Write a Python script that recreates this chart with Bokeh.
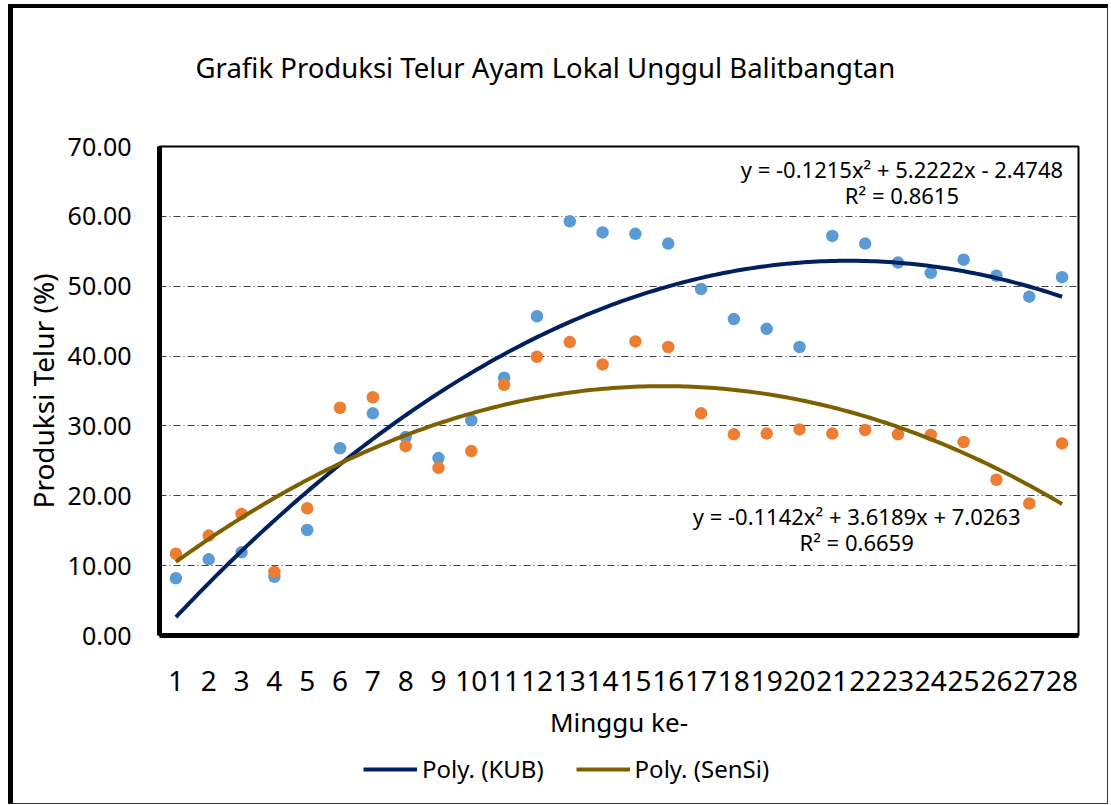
import numpy as np
from bokeh.plotting import figure
from bokeh.layouts import column
from bokeh.models import Range1d, FixedTicker, PrintfTickFormatter, Legend, LegendItem, ColumnDataSource
from bokeh.core.properties import value
from bokeh.embed import file_html
from bokeh.resources import INLINE

# ---- data ----
weeks = list(range(1, 29))
week_labels = [str(w) for w in weeks]
kub = [8.2, 10.9, 11.9, 8.4, 15.1, 26.8, 31.8, 28.4, 25.4, 30.8, 36.9, 45.7, 59.3, 57.7,
       57.5, 56.1, 49.6, 45.3, 43.9, 41.3, 57.2, 56.1, 53.4, 51.9, 53.8, 51.5, 48.5, 51.3]
sensi = [11.7, 14.3, 17.4, 9.1, 18.2, 32.6, 34.1, 27.1, 24.0, 26.4, 35.9, 39.9, 42.0, 38.8,
         42.1, 41.3, 31.8, 28.8, 28.9, 29.5, 28.9, 29.4, 28.8, 28.7, 27.7, 22.3, 18.9, 27.5]
# polynomial trendline coefficients shown in the chart (a, b, c) and R^2
kub_coef = [-0.1215, 5.2222, -2.4748]
kub_r2 = 0.8615
sensi_coef = [-0.1142, 3.6189, 7.0263]
sensi_r2 = 0.6659
y_ticks = [0, 10, 20, 30, 40, 50, 60, 70]
series_names = ["Poly. (KUB)", "Poly. (SenSi)"]
title_text = "Grafik Produksi Telur Ayam Lokal Unggul Balitbangtan"

FONT = "Noto Sans"
KUB_TREND = "#002060"
SENSI_TREND = "#7F6000"
W = 1094

def eq_text(c, r2):
    s1 = "-" if c[1] < 0 else "+"
    s2 = "-" if c[2] < 0 else "+"
    return f"y = {c[0]:.4f}x\u00b2 {s1} {abs(c[1]):.4f}x {s2} {abs(c[2]):.4f}\nR\u00b2 = {r2:.4f}"

xs = np.linspace(weeks[0], weeks[-1], 200)
kub_fit = np.polyval(kub_coef, xs)
sensi_fit = np.polyval(sensi_coef, xs)

# ---- title strip ----
p0 = figure(width=W, height=100, x_range=Range1d(0.5, 28.5), y_range=Range1d(0, 1),
            output_backend="svg", toolbar_location=None, min_border=0,
            min_border_left=146, min_border_right=29)
p0.axis.visible = False
p0.grid.visible = False
p0.outline_line_color = None
p0.text(x=[1.6], y=[0.41], text=[title_text], text_align="left", text_baseline="middle",
        text_font=value(FONT), text_font_size="27.5px", text_color="black")

# ---- main chart ----
p = figure(width=W, height=642, x_range=Range1d(0.5, 28.5), y_range=Range1d(0, 70),
           output_backend="svg", toolbar_location=None,
           min_border_left=146, min_border_right=29, min_border_top=38, min_border_bottom=115)

p.outline_line_color = "black"
p.outline_line_width = 2

# grid
p.xgrid.visible = False
p.ygrid.ticker = FixedTicker(ticks=[10, 20, 30, 40, 50, 60])
p.ygrid.grid_line_color = "#404040"
p.ygrid.grid_line_dash = "7 3 1 3"
p.ygrid.grid_line_width = 1

# axes
p.xaxis.ticker = FixedTicker(ticks=weeks)
p.xaxis.major_label_overrides = {w: l for w, l in zip(weeks, week_labels)}
p.yaxis.ticker = FixedTicker(ticks=y_ticks)
p.yaxis.formatter = PrintfTickFormatter(format="%.2f")
for ax in (p.xaxis[0], p.yaxis[0]):
    ax.axis_line_width = 5
    ax.axis_line_color = "black"
    ax.major_tick_line_color = None
    ax.minor_tick_line_color = None
    ax.major_label_text_font = FONT
    ax.major_label_text_color = "black"
    ax.axis_label_text_font = FONT
    ax.axis_label_text_font_style = "normal"
    ax.axis_label_text_color = "black"
p.xaxis.major_label_text_font_size = "28px"
p.yaxis.major_label_text_font_size = "25px"
p.xaxis.axis_label_text_font_size = "26px"
p.yaxis.axis_label_text_font_size = "28px"
p.xaxis.axis_label = "Minggu ke-"
p.yaxis.axis_label = "Produksi Telur (%)"
p.xaxis.major_label_standoff = 29
p.xaxis.axis_label_standoff = 10
p.yaxis.major_label_standoff = 22
p.yaxis.axis_label_standoff = 3

# scatter points
src = ColumnDataSource(dict(week=weeks, kub=kub, sensi=sensi))
p.scatter("week", "kub", source=src, size=12.5, color="#5B9BD5", line_color=None)
p.scatter("week", "sensi", source=src, size=12.5, color="#ED7D31", line_color=None)

# trendlines
p.line(xs, kub_fit, line_color=KUB_TREND, line_width=4)
p.line(xs, sensi_fit, line_color=SENSI_TREND, line_width=4)

# equation labels
p.text(x=[23.12], y=[68.9], text=[eq_text(kub_coef, kub_r2)], text_align="center",
       text_baseline="top", text_font=value(FONT), text_font_size="22px", text_color="black",
       text_line_height=0.85)
p.text(x=[21.74], y=[19.2], text=[eq_text(sensi_coef, sensi_r2)], text_align="center",
       text_baseline="top", text_font=value(FONT), text_font_size="22px", text_color="black",
       text_line_height=0.85)

# ---- legend strip ----
p2 = figure(width=W, height=53, x_range=Range1d(0, 1), y_range=Range1d(0, 1),
            output_backend="svg", toolbar_location=None, min_border=0,
            min_border_left=146, min_border_right=29)
p2.axis.visible = False
p2.grid.visible = False
p2.outline_line_color = None
l1 = p2.line([5, 6], [5, 6], line_color=KUB_TREND, line_width=4)
l2 = p2.line([5, 6], [5, 6], line_color=SENSI_TREND, line_width=4)
legend = Legend(items=[LegendItem(label=series_names[0], renderers=[l1]),
                       LegendItem(label=series_names[1], renderers=[l2])],
                orientation="horizontal", location=(204, 18),
                label_text_font=FONT, label_text_font_size="24px", label_text_color="black",
                glyph_width=54, label_standoff=5, spacing=32,
                padding=0, margin=0, border_line_color=None, background_fill_alpha=0)
p2.add_layout(legend)

layout = column(p0, p, p2, spacing=0,
                styles={"margin-left": "8px", "margin-top": "4px",
                        "border-left": "5px solid black", "border-top": "4px solid black",
                        "border-right": "1px solid #333", "border-bottom": "1px solid #333"})

open("out.html", "w").write(file_html(layout, INLINE))
